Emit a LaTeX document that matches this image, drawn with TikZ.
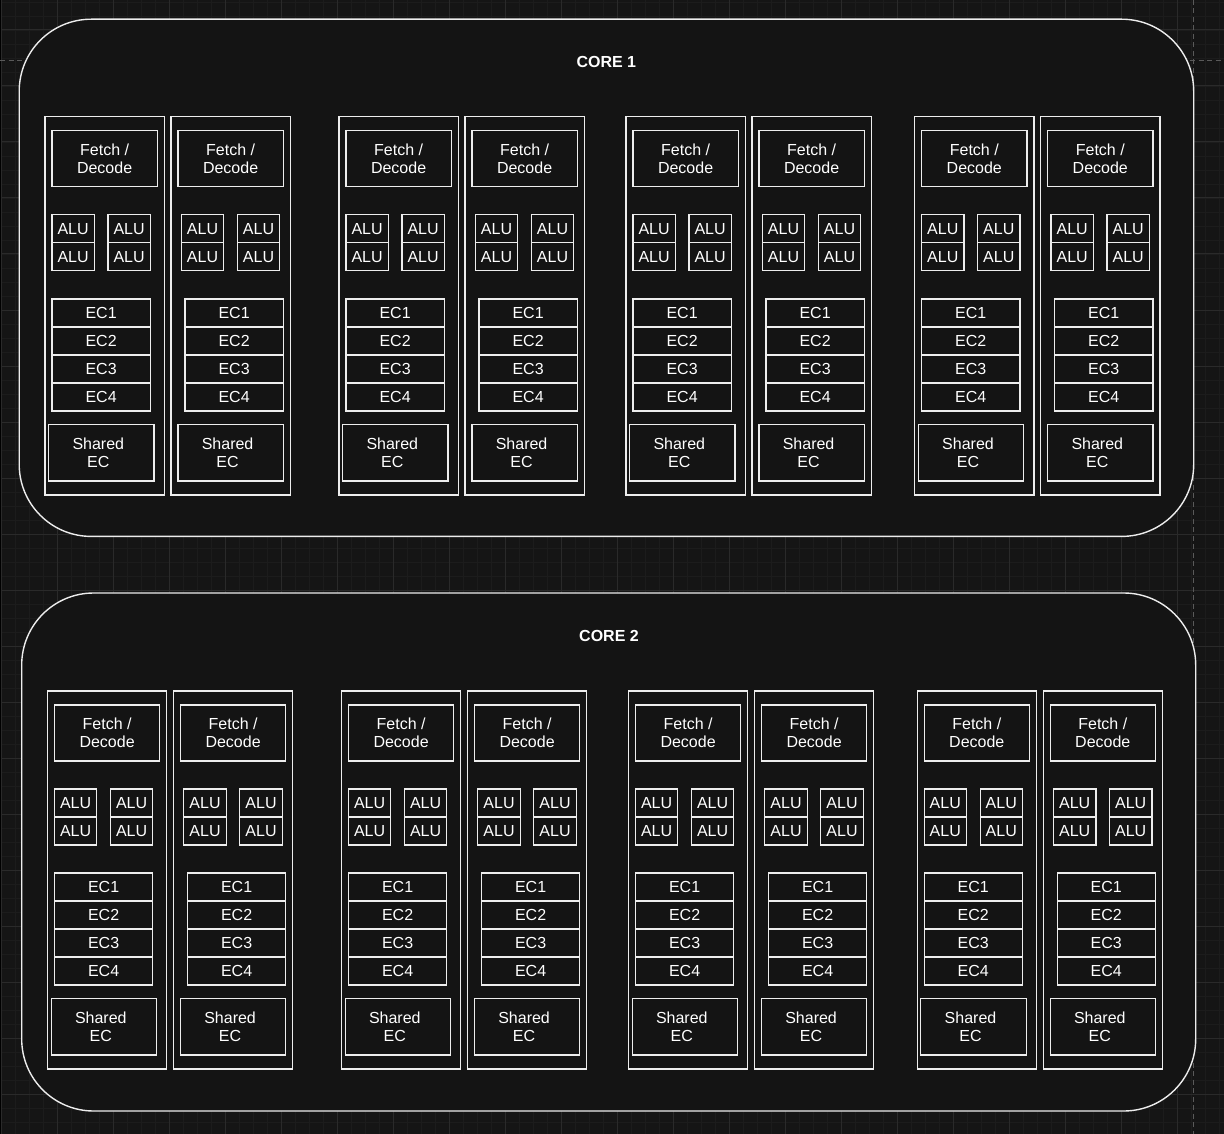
\documentclass[tikz,border=0pt]{standalone}
\usepackage{fontspec}
\setmainfont{Liberation Sans}
\definecolor{bgcol}{HTML}{151515}
\definecolor{corefill}{HTML}{141414}
\definecolor{minorgrid}{HTML}{1C1C1C}
\definecolor{majorgrid}{HTML}{2A2A2A}
\definecolor{pagebreak}{HTML}{5A5A5A}
\definecolor{linecol}{HTML}{EDEDED}
\tikzset{
  corebox/.style={draw=linecol, fill=corefill, line width=1.4pt, rounded corners=72pt, anchor=north west, inner sep=0pt},
  colbox/.style={draw=linecol, line width=1.2pt, anchor=north west, inner sep=0pt, minimum width=119.4pt, minimum height=378pt},
  cellbox/.style={draw=linecol, line width=1.2pt, anchor=north west, inner sep=0pt, text=white, align=center,
    font=\fontsize{16}{18.7}\selectfont},
  lbl/.style={text=white, align=center, inner sep=0pt, font=\fontsize{16}{18.7}\selectfont},
  title/.style={text=white, inner sep=0pt, font=\fontsize{16}{19}\selectfont\bfseries},
  gridminor/.style={draw=minorgrid, line width=0.8pt},
  gridmajor/.style={draw=majorgrid, line width=1pt},
  pagedash/.style={draw=pagebreak, line width=1pt, dash pattern=on 5pt off 3.5pt}
}
\begin{document}
\begin{tikzpicture}[x=1pt, y=-1pt]
\useasboundingbox (0,0) rectangle (1224,1134);
\fill[bgcol] (0,0) rectangle (1224,1134);
\fill[black] (0,0) rectangle (2,1134);
% grid
\foreach \i in {0,...,87} {
  \draw[gridminor] (1+14*\i,0) -- (1+14*\i,1134);
}
\foreach \i in {0,...,81} {
  \draw[gridminor] (2,2+14*\i) -- (1224,2+14*\i);
}
\foreach \i in {0,...,21} {
  \draw[gridmajor] (1+56*\i,0) -- (1+56*\i,1134);
}
\foreach \i in {0,...,20} {
  \draw[gridmajor] (2,30+56*\i) -- (1224,30+56*\i);
}
% page break lines
\coordinate (hl) at (0,61);
\coordinate (hr) at (1224,61);
\coordinate (vt) at (1193,0);
\coordinate (vb) at (1193,1134);
\draw[pagedash] (hl) -- (hr);
\draw[pagedash] (vt) -- (vb);
% cores
\node[corebox, minimum width=1174.5pt, minimum height=517.2pt] (core1) at (18.5,18.5) {};
\node[corebox, minimum width=1174pt, minimum height=518pt] (core2) at (21,592.3) {};
\node[title] (title1) at (606.3,61.5) {CORE 1};
\node[title] (title2) at (609,636) {CORE 2};
% columns
\foreach \k/\dx/\dy in {1/0/0, 2/2.5/574} {
  \foreach \cx/\ax/\bx/\ex/\sx [count=\ci] in {
      44.3/7/63/7/3.7, 170.3/10.4/66.4/14/7,
      338.3/7/63/7/3.7, 464.3/10.4/66.4/14/7,
      625.3/7/63/7/3.7, 751.3/10.4/66.4/14/7,
      914/7/63/7/3.7, 1040/10.4/66.4/14/7} {
    \node[colbox] (col-\k-\ci) at (\cx+\dx,116.3+\dy) {};
    \node[cellbox, minimum width=105.4pt, minimum height=56pt] (fd-\k-\ci) at (\cx+\dx+7,130.3+\dy) {Fetch /\\Decode};
    \foreach \r in {0,1} {
      \node[cellbox, minimum width=42.4pt, minimum height=28pt] (alua-\k-\ci-\r) at (\cx+\dx+\ax,214.3+28*\r+\dy) {ALU};
      \node[cellbox, minimum width=42.4pt, minimum height=28pt] (alub-\k-\ci-\r) at (\cx+\dx+\bx,214.3+28*\r+\dy) {ALU};
    }
    \foreach \r in {1,...,4} {
      \node[cellbox, minimum width=98.4pt, minimum height=28pt] (ec-\k-\ci-\r) at (\cx+\dx+\ex,298.3+28*\r-28+\dy) {EC\r};
    }
    \node[cellbox, minimum width=105.4pt, minimum height=56.3pt] (sh-\k-\ci) at (\cx+\dx+\sx,424+\dy) {};
    \node[lbl] (shl-\k-\ci) at ([xshift=-3pt]sh-\k-\ci.center) {Shared\\EC};
  }
}
\end{tikzpicture}
\end{document}
